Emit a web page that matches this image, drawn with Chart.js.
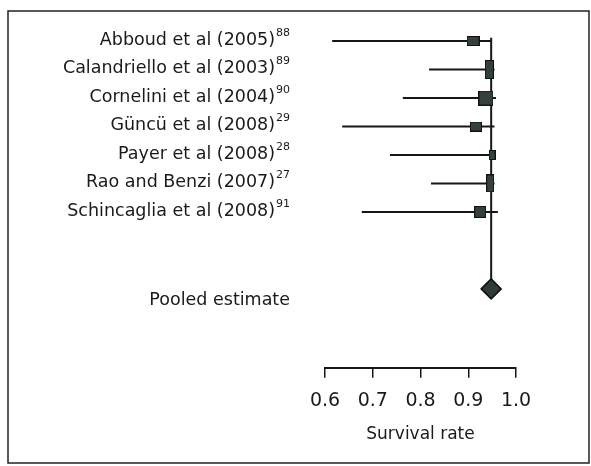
<!DOCTYPE html>
<html>
<head>
<meta charset="utf-8">
<script src="https://cdn.jsdelivr.net/npm/chart.js@4.4.1/dist/chart.umd.min.js"></script>
<style>
  html, body { margin: 0; padding: 0; background: #fff; }
  #wrap { width: 591px; height: 466px; position: relative; }
</style>
</head>
<body>
<div id="wrap"><canvas id="chart"></canvas></div>
<script>
// study data
const studies = [
  'Abboud et al (2005)',
  'Calandriello et al (2003)',
  'Cornelini et al (2004)',
  'Güncü et al (2008)',
  'Payer et al (2008)',
  'Rao and Benzi (2007)',
  'Schincaglia et al (2008)'
];
const refs = ['88', '89', '90', '29', '28', '27', '91'];
const estimates = [0.910, 0.944, 0.937, 0.916, 0.950, 0.946, 0.925];
const lowerCI = [0.615, 0.818, 0.763, 0.636, 0.736, 0.822, 0.677];
const upperCI = [0.948, 0.955, 0.958, 0.955, 0.955, 0.955, 0.962];

const pooledLabel = 'Pooled estimate';
const pooledEstimate = 0.948;
const pooledRow = 8.7;

const xTicks = [0.6, 0.7, 0.8, 0.9, 1.0];
const axisTitle = 'Survival rate';

// box sizes in px (width, height) as printed
const boxSizes = [[13, 10], [9, 19], [15, 15], [12, 10], [7, 10], [8, 18], [12, 12]];

const ink = '#161616';
const boxFill = '#33403b';
const labelFont = '17.5px "DejaVu Sans"';
const supFont = '11px "DejaVu Sans"';

const makeBox = (w, h) => {
    const c = document.createElement('canvas');
    c.width = w;
    c.height = h;
    const g = c.getContext('2d');
    g.fillStyle = boxFill;
    g.fillRect(0, 0, w, h);
    g.strokeStyle = '#111';
    g.lineWidth = 1;
    g.strokeRect(0.5, 0.5, w - 1, h - 1);
    return c;
};

const ciDatasets = studies.map((s, i) => ({
    type: 'line',
    label: s,
    data: [{x: lowerCI[i], y: i}, {x: upperCI[i], y: i}],
    borderColor: ink,
    borderWidth: 2,
    pointRadius: 0,
    order: 3
}));

const refLine = {
    type: 'line',
    label: 'ref',
    data: [{x: pooledEstimate, y: -0.12}, {x: pooledEstimate, y: pooledRow}],
    borderColor: ink,
    borderWidth: 2,
    pointRadius: 0,
    order: 4
};

const boxes = {
    type: 'scatter',
    label: 'boxes',
    data: estimates.map((v, i) => ({x: v, y: i})),
    pointStyle: boxSizes.map(b => makeBox(b[0], b[1])),
    order: 1
};

const diamond = {
    type: 'scatter',
    label: 'pooled',
    data: [{x: pooledEstimate, y: pooledRow}],
    pointStyle: 'rectRot',
    pointRadius: 10,
    backgroundColor: '#2e3b36',
    borderColor: '#111',
    borderWidth: 1.5,
    order: 0
};

const framePlugin = {
    id: 'frame',
    beforeDraw(chart) {
        const ctx = chart.ctx;
        ctx.save();
        ctx.strokeStyle = '#222';
        ctx.lineWidth = 1.5;
        ctx.strokeRect(8, 11, 581, 452);
        ctx.restore();
    }
};

const labelPlugin = {
    id: 'studyLabels',
    afterDraw(chart) {
        const ctx = chart.ctx;
        const y = chart.scales.y;
        const right = 290;
        ctx.save();
        ctx.fillStyle = '#1a1a1a';
        ctx.textBaseline = 'middle';
        ctx.textAlign = 'right';
        studies.forEach((s, i) => {
            const py = y.getPixelForValue(i) - 1;
            ctx.font = supFont;
            const supW = ctx.measureText(refs[i]).width;
            ctx.fillText(refs[i], right, py - 7);
            ctx.font = labelFont;
            ctx.fillText(s, right - supW - 1, py);
        });
        ctx.font = labelFont;
        ctx.fillText(pooledLabel, right, y.getPixelForValue(pooledRow) + 12);
        ctx.restore();
    }
};

new Chart(document.getElementById('chart'), {
    data: {datasets: [...ciDatasets, refLine, boxes, diamond]},
    options: {
        responsive: true,
        maintainAspectRatio: false,
        animation: false,
        events: [],
        layout: {padding: {left: 325, right: 75, top: 12, bottom: 21}},
        plugins: {legend: {display: false}, tooltip: {enabled: false}},
        scales: {
            x: {
                type: 'linear',
                position: 'bottom',
                min: 0.6,
                max: 1.0,
                afterBuildTicks: (axis) => { axis.ticks = xTicks.map(v => ({value: v})); },
                ticks: {
                    callback: (v) => v.toFixed(1),
                    color: '#1a1a1a',
                    font: {family: 'DejaVu Sans', size: 19},
                    padding: 12,
                    maxRotation: 0
                },
                grid: {drawOnChartArea: false, drawTicks: true, tickLength: 10, color: ink, lineWidth: 1.5},
                border: {color: ink, width: 2},
                title: {
                    display: true,
                    text: axisTitle,
                    color: '#1a1a1a',
                    font: {family: 'DejaVu Sans', size: 17},
                    padding: {top: 0, bottom: 0}
                }
            },
            y: {
                type: 'linear',
                display: false,
                reverse: true,
                min: -1.02,
                max: 11.47
            }
        }
    },
    plugins: [framePlugin, labelPlugin]
});
</script>
</body>
</html>
